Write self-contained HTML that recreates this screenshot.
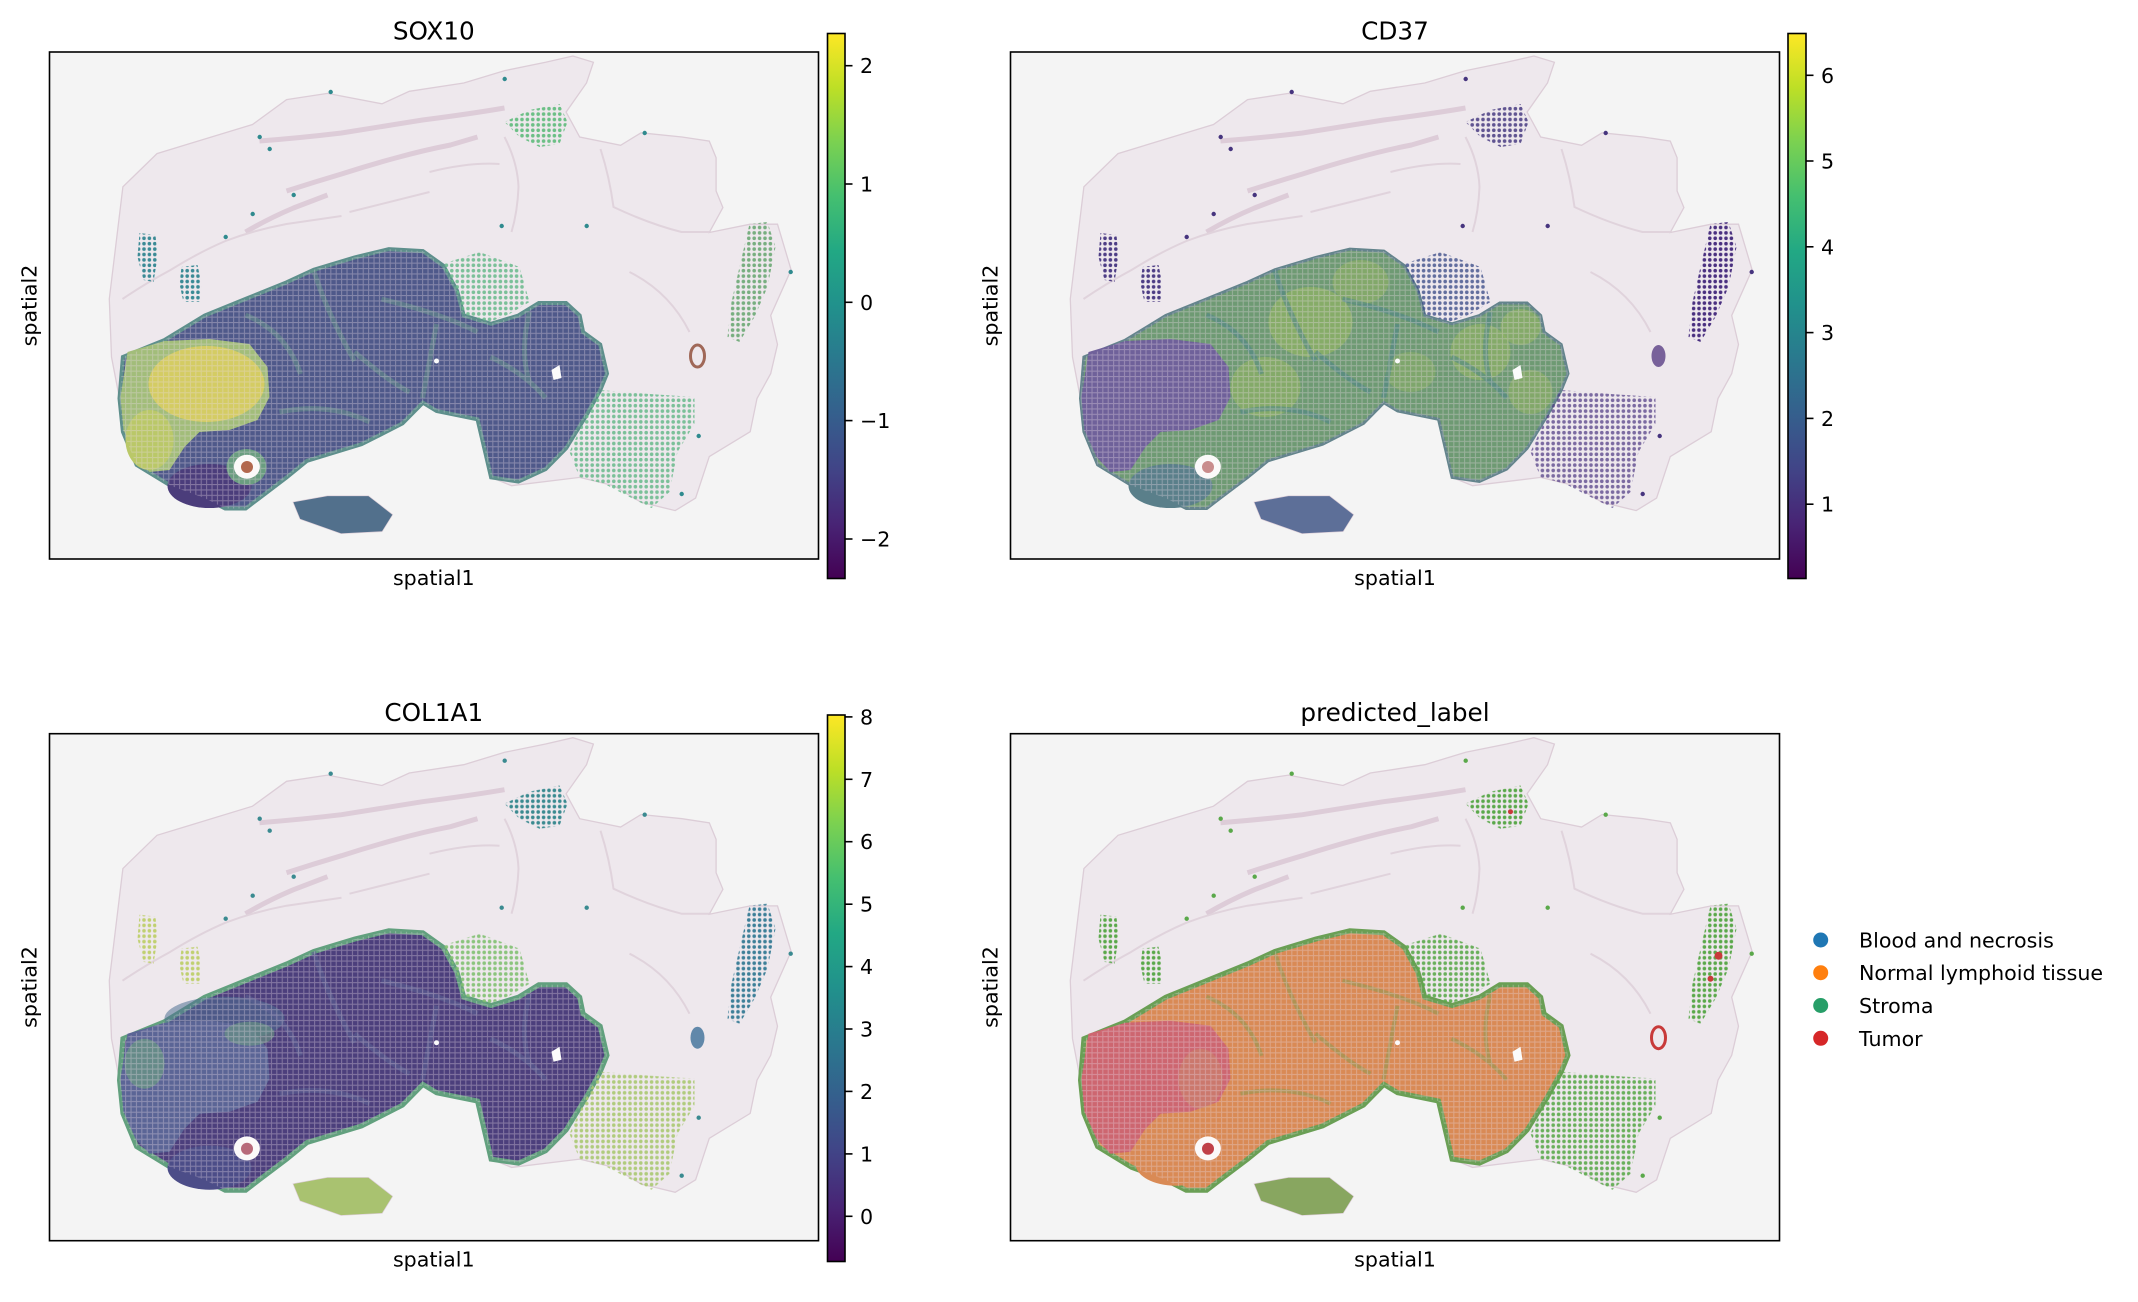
<!DOCTYPE html>
<html>
<head>
<meta charset="utf-8">
<style>
html,body{margin:0;padding:0;background:#fff;}
body{width:2138px;height:1302px;overflow:hidden;}
svg{display:block;}
text{font-family:"DejaVu Sans","Liberation Sans",sans-serif;fill:#000;}
.tk{font-size:20.6px;}
.tt{font-size:24.7px;}
</style>
</head>
<body>
<svg width="2138" height="1302" viewBox="0 0 2138 1302" xmlns="http://www.w3.org/2000/svg">
<rect width="2138" height="1302" fill="#fff"/>
<defs>
  <linearGradient id="vir" x1="0" y1="1" x2="0" y2="0">
    <stop offset="0" stop-color="#440154"/>
    <stop offset="0.1" stop-color="#482475"/>
    <stop offset="0.2" stop-color="#414487"/>
    <stop offset="0.3" stop-color="#355f8d"/>
    <stop offset="0.4" stop-color="#2a788e"/>
    <stop offset="0.5" stop-color="#21918c"/>
    <stop offset="0.6" stop-color="#22a884"/>
    <stop offset="0.7" stop-color="#44bf70"/>
    <stop offset="0.8" stop-color="#7ad151"/>
    <stop offset="0.9" stop-color="#bddf26"/>
    <stop offset="1" stop-color="#fde725"/>
  </linearGradient>
  <clipPath id="ax"><rect x="0" y="0" width="769" height="507"/></clipPath>
  <pattern id="dotW" width="5.4" height="5.4" patternUnits="userSpaceOnUse">
    <circle cx="2.7" cy="2.7" r="1.8" fill="#fff"/>
  </pattern>
  <mask id="dots" maskUnits="userSpaceOnUse" x="0" y="0" width="770" height="507">
    <rect x="0" y="0" width="770" height="507" fill="url(#dotW)"/>
  </mask>
  <pattern id="grid" width="5.4" height="5.4" patternUnits="userSpaceOnUse">
    <path d="M0,0.5H5.4M0.5,0V5.4" stroke="#e8d9e4" stroke-width="1.1" opacity="0.35" fill="none"/>
  </pattern>

  <path id="tissue" d="M59.8,246.9 L73.4,134.8 L107.5,101.6 L134.8,93.3 L203,72.5 L237.1,47.6 L278,41.4 L332.5,51.8 L359.8,39.3 L414.3,31 L455.2,18.6 L496.1,10.3 L523.4,4 L543.9,10.3 L537,31 L516.6,60.1 L530.2,85 L571.1,93.3 L591.6,80.8 L632.5,85 L659.8,89.1 L666.6,105.7 L666.6,139 L673.4,155.6 L659.8,180.5 L700.7,172.2 L728,172.2 L741.6,217.8 L721.2,263.5 L728,292.5 L721.2,321.6 L707.5,346.5 L700.7,379.7 L659.8,404.6 L646.1,446.1 L625.7,458.6 L591.6,450.3 L564.3,433.7 L530.2,425.4 L462.1,433.7 L441.6,425.4 L434.8,396.3 L428,367.3 L387.1,359 L373.4,350.7 L353,371.4 L312.1,392.2 L257.5,408.8 L237.1,425.4 L209.8,446.1 L196.2,456.5 L175.7,456.5 L155.2,446.1 L121.2,433.7 L87.1,412.9 L73.4,379.7 L70,346.5 L62,305 Z M243.9,450.3 L278,444.1 L318.9,444.1 L342.8,462.7 L332.5,479.3 L291.6,481.4 L250.7,466.9 Z"/>
  <path id="bands" d="M210,89 Q250,86 292,81 Q335,74 373,68 Q420,62 455,56 M237,139 Q265,130 292,122 Q320,113 346,106 Q375,98 401,93 L428,85 M196,180 Q220,166 244,156 L278,143"/>
  <path id="lobules" d="M73,247 Q95,232 121,218 Q150,200 176,189 Q205,178 237,172 L292,164 M455,85 Q468,110 469,135 Q468,160 462,180 M551,97 Q560,125 564,155 Q600,172 632,180 L660,180 M300,160 Q340,150 380,140 M580,220 Q620,240 640,280 M380,120 Q420,110 450,112"/>
  <path id="body" d="M73.4,305 L114.3,288.4 L155.2,263.5 L196.2,246.9 L237.1,230.3 L264.3,217.8 L305.2,205.4 L339.3,197.1 L373.4,199.1 L393.9,213.7 L407.5,238.6 L414.3,263.5 L441.6,271.8 L468.9,263.5 L489.3,251 L516.6,251 L530.2,263.5 L533.6,280.1 L550.7,292.5 L557.5,321.6 L550.7,338.2 L537,363.1 L516.6,396.3 L496.1,417.1 L468.9,429.5 L441.6,425.4 L434.8,396.3 L428,367.3 L387.1,359 L373.4,350.7 L353,371.4 L312.1,392.2 L257.5,408.8 L237.1,425.4 L209.8,446.1 L196.2,456.5 L175.7,456.5 L155.2,446.1 L121.2,433.7 L87.1,412.9 L73.4,379.7 L70,346.5 Z"/>
  <path id="island" d="M243.9,450.3 L278,444.1 L318.9,444.1 L342.8,462.7 L332.5,479.3 L291.6,481.4 L250.7,466.9 Z"/>
  <path id="tumor" d="M78,300 L115,289 L160,287 L200,292 L218,315 L220,345 L208,368 L180,378 L150,380 L135,395 L120,418 L100,420 L86,405 L74,378 L71,345 Z"/>
  <path id="streaks" d="M264,218 Q278,262 305,309 M332,247 Q394,262 428,280 M387,272 L373,346 M441,305 Q476,322 496,346 M196,263 Q237,280 251,322 M305,300 Q340,330 360,340 M480,260 Q470,300 480,330 M230,360 Q280,350 320,370"/>
  <path id="rstroma" d="M550,338 L600,342 L645,345 L645,372 L628,400 L620,440 L602,456 L580,445 L555,432 L530,425 L520,400 L537,363 Z"/>
  <path id="midstroma" d="M393,212 L430,200 L470,215 L480,250 L460,262 L440,270 L414,262 L407,238 Z"/>
  <path id="rstrip" d="M700,172 L718,170 L726,195 L718,235 L705,265 L690,290 L678,285 L682,250 L690,215 Z"/>
  <path id="topspots" d="M455,70 L480,58 L510,52 L518,70 L510,92 L490,95 L470,85 Z"/>
  <path id="leftstrip" d="M132,215 L148,213 L152,232 L150,250 L134,250 L130,232 Z M90,181 L106,183 L108,205 L104,230 L94,228 L88,205 Z"/>
  <path id="scatter" d="M208,85 a2.2,2.2 0 1,0 4.4,0 a2.2,2.2 0 1,0 -4.4,0 M218,97 a2.2,2.2 0 1,0 4.4,0 a2.2,2.2 0 1,0 -4.4,0 M279,40 a2.2,2.2 0 1,0 4.4,0 a2.2,2.2 0 1,0 -4.4,0 M453,27 a2.2,2.2 0 1,0 4.4,0 a2.2,2.2 0 1,0 -4.4,0 M242,143 a2.2,2.2 0 1,0 4.4,0 a2.2,2.2 0 1,0 -4.4,0 M201,162 a2.2,2.2 0 1,0 4.4,0 a2.2,2.2 0 1,0 -4.4,0 M174,185 a2.2,2.2 0 1,0 4.4,0 a2.2,2.2 0 1,0 -4.4,0 M450,174 a2.2,2.2 0 1,0 4.4,0 a2.2,2.2 0 1,0 -4.4,0 M535,174 a2.2,2.2 0 1,0 4.4,0 a2.2,2.2 0 1,0 -4.4,0 M593,81 a2.2,2.2 0 1,0 4.4,0 a2.2,2.2 0 1,0 -4.4,0 M739,220 a2.2,2.2 0 1,0 4.4,0 a2.2,2.2 0 1,0 -4.4,0 M647,384 a2.2,2.2 0 1,0 4.4,0 a2.2,2.2 0 1,0 -4.4,0 M630,442 a2.2,2.2 0 1,0 4.4,0 a2.2,2.2 0 1,0 -4.4,0"/>
  <g id="holes">
    <ellipse cx="197.4" cy="414.7" rx="13" ry="12" fill="#fbf9f9"/>
    <path d="M502,318 L510,313 L512,326 L504,328 Z" fill="#fbfbfb"/>
    <circle cx="387" cy="309" r="2.5" fill="#fbfbfb"/>
  </g>
</defs>

<!-- ================= PANEL 1: SOX10 ================= -->
<g transform="translate(49.5,52)">
  <g clip-path="url(#ax)">
    <rect width="769" height="507" fill="#f4f4f4"/>
    <use href="#tissue" fill="#eee8ed" stroke="#dccdd7" stroke-width="1.3"/>
    <use href="#bands" fill="none" stroke="#ddccd8" stroke-width="5"/>
    <use href="#lobules" fill="none" stroke="#e0d3dc" stroke-width="2"/>
    <use href="#body" fill="#4f598a" stroke="#5e8f8c" stroke-width="4"/>
    <use href="#streaks" fill="none" stroke="#679789" stroke-width="5" opacity="0.5"/>
    <use href="#tumor" fill="#a2bd7a"/>
    <ellipse cx="157" cy="332" rx="58" ry="38" fill="#d4cc63"/>
    <ellipse cx="100" cy="388" rx="24" ry="30" fill="#bac868"/>
    <ellipse cx="160" cy="434" rx="42" ry="22" fill="#4b3d7b"/>
    <ellipse cx="197" cy="415" rx="20" ry="18" fill="#6a9d80"/>
    <use href="#island" fill="#52708c"/>
    <use href="#body" fill="url(#grid)"/>
    <g mask="url(#dots)">
      <use href="#rstroma" fill="#66b88a" opacity="0.85"/>
      <use href="#midstroma" fill="#66b88a" opacity="0.85"/>
      <use href="#rstrip" fill="#78ae80"/>
      <use href="#topspots" fill="#6cbf86"/>
      <use href="#leftstrip" fill="#3a8a95"/>
    </g>
    <use href="#scatter" fill="#2f8a8e"/>
    <use href="#holes"/>
    <ellipse cx="197.5" cy="415" rx="6" ry="6" fill="#b2684e"/>
    <ellipse cx="648" cy="304" rx="7" ry="11" fill="none" stroke="#a06858" stroke-width="3"/>
  </g>
  <rect width="769" height="507" fill="none" stroke="#000" stroke-width="1.6"/>
</g>
<text class="tt" x="433.8" y="39.5" text-anchor="middle">SOX10</text>
<text class="tk" x="433.8" y="585" text-anchor="middle">spatial1</text>
<text class="tk" transform="translate(36.5,305.5) rotate(-90)" text-anchor="middle">spatial2</text>
<!-- colorbar 1 -->
<rect x="827.5" y="33.5" width="17.5" height="545" fill="url(#vir)" stroke="#000" stroke-width="1.6"/>
<g stroke="#000" stroke-width="1.6">
  <line x1="845" y1="65.7" x2="852.5" y2="65.7"/>
  <line x1="845" y1="184" x2="852.5" y2="184"/>
  <line x1="845" y1="302.3" x2="852.5" y2="302.3"/>
  <line x1="845" y1="420.6" x2="852.5" y2="420.6"/>
  <line x1="845" y1="539" x2="852.5" y2="539"/>
</g>
<text class="tk" x="860" y="73.2">2</text>
<text class="tk" x="860" y="191.5">1</text>
<text class="tk" x="860" y="309.8">0</text>
<text class="tk" x="860" y="428.1">−1</text>
<text class="tk" x="860" y="546.5">−2</text>

<!-- ================= PANEL 2: CD37 ================= -->
<g transform="translate(1010.5,52)">
  <g clip-path="url(#ax)">
    <rect width="769" height="507" fill="#f4f4f4"/>
    <use href="#tissue" fill="#eee8ed" stroke="#dccdd7" stroke-width="1.3"/>
    <use href="#bands" fill="none" stroke="#ddccd8" stroke-width="5"/>
    <use href="#lobules" fill="none" stroke="#e0d3dc" stroke-width="2"/>
    <use href="#body" fill="#6e9a73" stroke="#64848c" stroke-width="3"/>
    <ellipse cx="300" cy="270" rx="42" ry="35" fill="#93b563" opacity="0.65"/>
    <ellipse cx="255" cy="335" rx="35" ry="30" fill="#93b563" opacity="0.6"/>
    <ellipse cx="470" cy="300" rx="30" ry="28" fill="#93b563" opacity="0.6"/>
    <ellipse cx="510" cy="275" rx="20" ry="18" fill="#93b563" opacity="0.6"/>
    <ellipse cx="520" cy="340" rx="22" ry="22" fill="#93b563" opacity="0.55"/>
    <ellipse cx="350" cy="230" rx="28" ry="22" fill="#93b563" opacity="0.55"/>
    <ellipse cx="400" cy="320" rx="25" ry="20" fill="#93b563" opacity="0.45"/>
    <use href="#streaks" fill="none" stroke="#4f8589" stroke-width="5" opacity="0.55"/>
    <use href="#tumor" fill="#6f619a"/>
    <ellipse cx="160" cy="434" rx="42" ry="22" fill="#5a7f8a"/>
    <use href="#island" fill="#5d6f98"/>
    <use href="#body" fill="url(#grid)"/>
    <g mask="url(#dots)">
      <use href="#rstroma" fill="#4a3580" opacity="0.7"/>
      <use href="#midstroma" fill="#3f4f8a" opacity="0.8"/>
      <use href="#rstrip" fill="#4a3080"/>
      <use href="#topspots" fill="#463a80" opacity="0.85"/>
      <use href="#leftstrip" fill="#4d3d85"/>
    </g>
    <use href="#scatter" fill="#46347e"/>
    <use href="#holes"/>
    <ellipse cx="197.5" cy="415" rx="6" ry="6" fill="#c98c8c"/>
    <ellipse cx="648" cy="304" rx="7" ry="11" fill="#5a3f85" opacity="0.8"/>
  </g>
  <rect width="769" height="507" fill="none" stroke="#000" stroke-width="1.6"/>
</g>
<text class="tt" x="1395" y="39.5" text-anchor="middle">CD37</text>
<text class="tk" x="1395" y="585" text-anchor="middle">spatial1</text>
<text class="tk" transform="translate(997.5,305.5) rotate(-90)" text-anchor="middle">spatial2</text>
<!-- colorbar 2 -->
<rect x="1788" y="33.5" width="18" height="545" fill="url(#vir)" stroke="#000" stroke-width="1.6"/>
<g stroke="#000" stroke-width="1.6">
  <line x1="1806" y1="75.3" x2="1813.5" y2="75.3"/>
  <line x1="1806" y1="161" x2="1813.5" y2="161"/>
  <line x1="1806" y1="246.8" x2="1813.5" y2="246.8"/>
  <line x1="1806" y1="332.6" x2="1813.5" y2="332.6"/>
  <line x1="1806" y1="418.4" x2="1813.5" y2="418.4"/>
  <line x1="1806" y1="504.2" x2="1813.5" y2="504.2"/>
</g>
<text class="tk" x="1821" y="82.8">6</text>
<text class="tk" x="1821" y="168.5">5</text>
<text class="tk" x="1821" y="254.3">4</text>
<text class="tk" x="1821" y="340.1">3</text>
<text class="tk" x="1821" y="425.9">2</text>
<text class="tk" x="1821" y="511.7">1</text>

<!-- ================= PANEL 3: COL1A1 ================= -->
<g transform="translate(49.5,733.7)">
  <g clip-path="url(#ax)">
    <rect width="769" height="507" fill="#f4f4f4"/>
    <use href="#tissue" fill="#eee8ed" stroke="#dccdd7" stroke-width="1.3"/>
    <use href="#bands" fill="none" stroke="#ddccd8" stroke-width="5"/>
    <use href="#lobules" fill="none" stroke="#e0d3dc" stroke-width="2"/>
    <use href="#body" fill="#4c3f7c" stroke="#62a07e" stroke-width="5"/>
    <ellipse cx="175" cy="285" rx="60" ry="22" fill="#4f6f92" opacity="0.55"/>
    <use href="#streaks" fill="none" stroke="#5a5f92" stroke-width="5" opacity="0.6"/>
    <use href="#tumor" fill="#5b6596"/>
    <ellipse cx="95" cy="330" rx="20" ry="25" fill="#6a9a82" opacity="0.7"/>
    <ellipse cx="200" cy="300" rx="25" ry="12" fill="#6a9a82" opacity="0.6"/>
    <ellipse cx="160" cy="434" rx="42" ry="22" fill="#4c4d88"/>
    <use href="#island" fill="#a9c270"/>
    <use href="#body" fill="url(#grid)"/>
    <g mask="url(#dots)">
      <use href="#rstroma" fill="#a9c870" opacity="0.9"/>
      <use href="#midstroma" fill="#7fc070" opacity="0.9"/>
      <use href="#rstrip" fill="#3d7f98"/>
      <use href="#topspots" fill="#3a8a90"/>
      <use href="#leftstrip" fill="#c0d070"/>
    </g>
    <use href="#scatter" fill="#3a8a90"/>
    <use href="#holes"/>
    <ellipse cx="197.5" cy="415" rx="6" ry="6" fill="#b86a7a"/>
    <ellipse cx="648" cy="304" rx="7" ry="11" fill="#3d6f98" opacity="0.8"/>
  </g>
  <rect width="769" height="507" fill="none" stroke="#000" stroke-width="1.6"/>
</g>
<text class="tt" x="433.8" y="721" text-anchor="middle">COL1A1</text>
<text class="tk" x="433.8" y="1266.5" text-anchor="middle">spatial1</text>
<text class="tk" transform="translate(36.5,987) rotate(-90)" text-anchor="middle">spatial2</text>
<!-- colorbar 3 -->
<rect x="827.5" y="715" width="17.5" height="546.5" fill="url(#vir)" stroke="#000" stroke-width="1.6"/>
<g stroke="#000" stroke-width="1.6">
  <line x1="845" y1="716.9" x2="852.5" y2="716.9"/>
  <line x1="845" y1="779.3" x2="852.5" y2="779.3"/>
  <line x1="845" y1="841.7" x2="852.5" y2="841.7"/>
  <line x1="845" y1="904.2" x2="852.5" y2="904.2"/>
  <line x1="845" y1="966.6" x2="852.5" y2="966.6"/>
  <line x1="845" y1="1029" x2="852.5" y2="1029"/>
  <line x1="845" y1="1091.4" x2="852.5" y2="1091.4"/>
  <line x1="845" y1="1153.9" x2="852.5" y2="1153.9"/>
  <line x1="845" y1="1216.3" x2="852.5" y2="1216.3"/>
</g>
<text class="tk" x="860" y="724.4">8</text>
<text class="tk" x="860" y="786.8">7</text>
<text class="tk" x="860" y="849.2">6</text>
<text class="tk" x="860" y="911.7">5</text>
<text class="tk" x="860" y="974.1">4</text>
<text class="tk" x="860" y="1036.5">3</text>
<text class="tk" x="860" y="1098.9">2</text>
<text class="tk" x="860" y="1161.4">1</text>
<text class="tk" x="860" y="1223.8">0</text>

<!-- ================= PANEL 4: predicted_label ================= -->
<g transform="translate(1010.5,733.7)">
  <g clip-path="url(#ax)">
    <rect width="769" height="507" fill="#f4f4f4"/>
    <use href="#tissue" fill="#eee8ed" stroke="#dccdd7" stroke-width="1.3"/>
    <use href="#bands" fill="none" stroke="#ddccd8" stroke-width="5"/>
    <use href="#lobules" fill="none" stroke="#e0d3dc" stroke-width="2"/>
    <use href="#body" fill="#d98a55" stroke="#6a9f55" stroke-width="5"/>
    <use href="#streaks" fill="none" stroke="#7e9c52" stroke-width="4" opacity="0.45"/>
    <use href="#tumor" fill="#cd6670"/>
    <ellipse cx="190" cy="345" rx="22" ry="30" fill="#c98a6a" opacity="0.5"/>
    <ellipse cx="165" cy="430" rx="40" ry="22" fill="#d98a55"/>
    <use href="#island" fill="#88a660"/>
    <use href="#body" fill="url(#grid)"/>
    <g mask="url(#dots)">
      <use href="#rstroma" fill="#5aa84a" opacity="0.9"/>
      <use href="#midstroma" fill="#5aa84a" opacity="0.9"/>
      <use href="#rstrip" fill="#5aa84a"/>
      <use href="#topspots" fill="#5aa84a"/>
      <use href="#leftstrip" fill="#5aa84a"/>
    </g>
    <use href="#scatter" fill="#5aa84a"/>
    <use href="#holes"/>
    <ellipse cx="197.5" cy="415" rx="6" ry="6" fill="#c04048"/>
    <ellipse cx="648" cy="304" rx="7" ry="11" fill="none" stroke="#c83a3a" stroke-width="3"/>
    <circle cx="708" cy="222" r="4" fill="#c83a3a"/>
    <circle cx="700" cy="245" r="3" fill="#c83a3a"/>
    <circle cx="500" cy="78" r="2.5" fill="#c83a3a"/>
  </g>
  <rect width="769" height="507" fill="none" stroke="#000" stroke-width="1.6"/>
</g>
<text class="tt" x="1395" y="721" text-anchor="middle">predicted_label</text>
<text class="tk" x="1395" y="1266.5" text-anchor="middle">spatial1</text>
<text class="tk" transform="translate(997.5,987) rotate(-90)" text-anchor="middle">spatial2</text>

<!-- legend -->
<circle cx="1820.7" cy="940" r="7.5" fill="#1f77b4"/>
<circle cx="1820.7" cy="972.7" r="7.5" fill="#ff7f0e"/>
<circle cx="1820.7" cy="1005.5" r="7.5" fill="#279e68"/>
<circle cx="1820.7" cy="1038.3" r="7.5" fill="#d62728"/>
<text class="tk" x="1859" y="947.5">Blood and necrosis</text>
<text class="tk" x="1859" y="980.2">Normal lymphoid tissue</text>
<text class="tk" x="1859" y="1013">Stroma</text>
<text class="tk" x="1859" y="1045.8">Tumor</text>
</svg>
</body>
</html>
